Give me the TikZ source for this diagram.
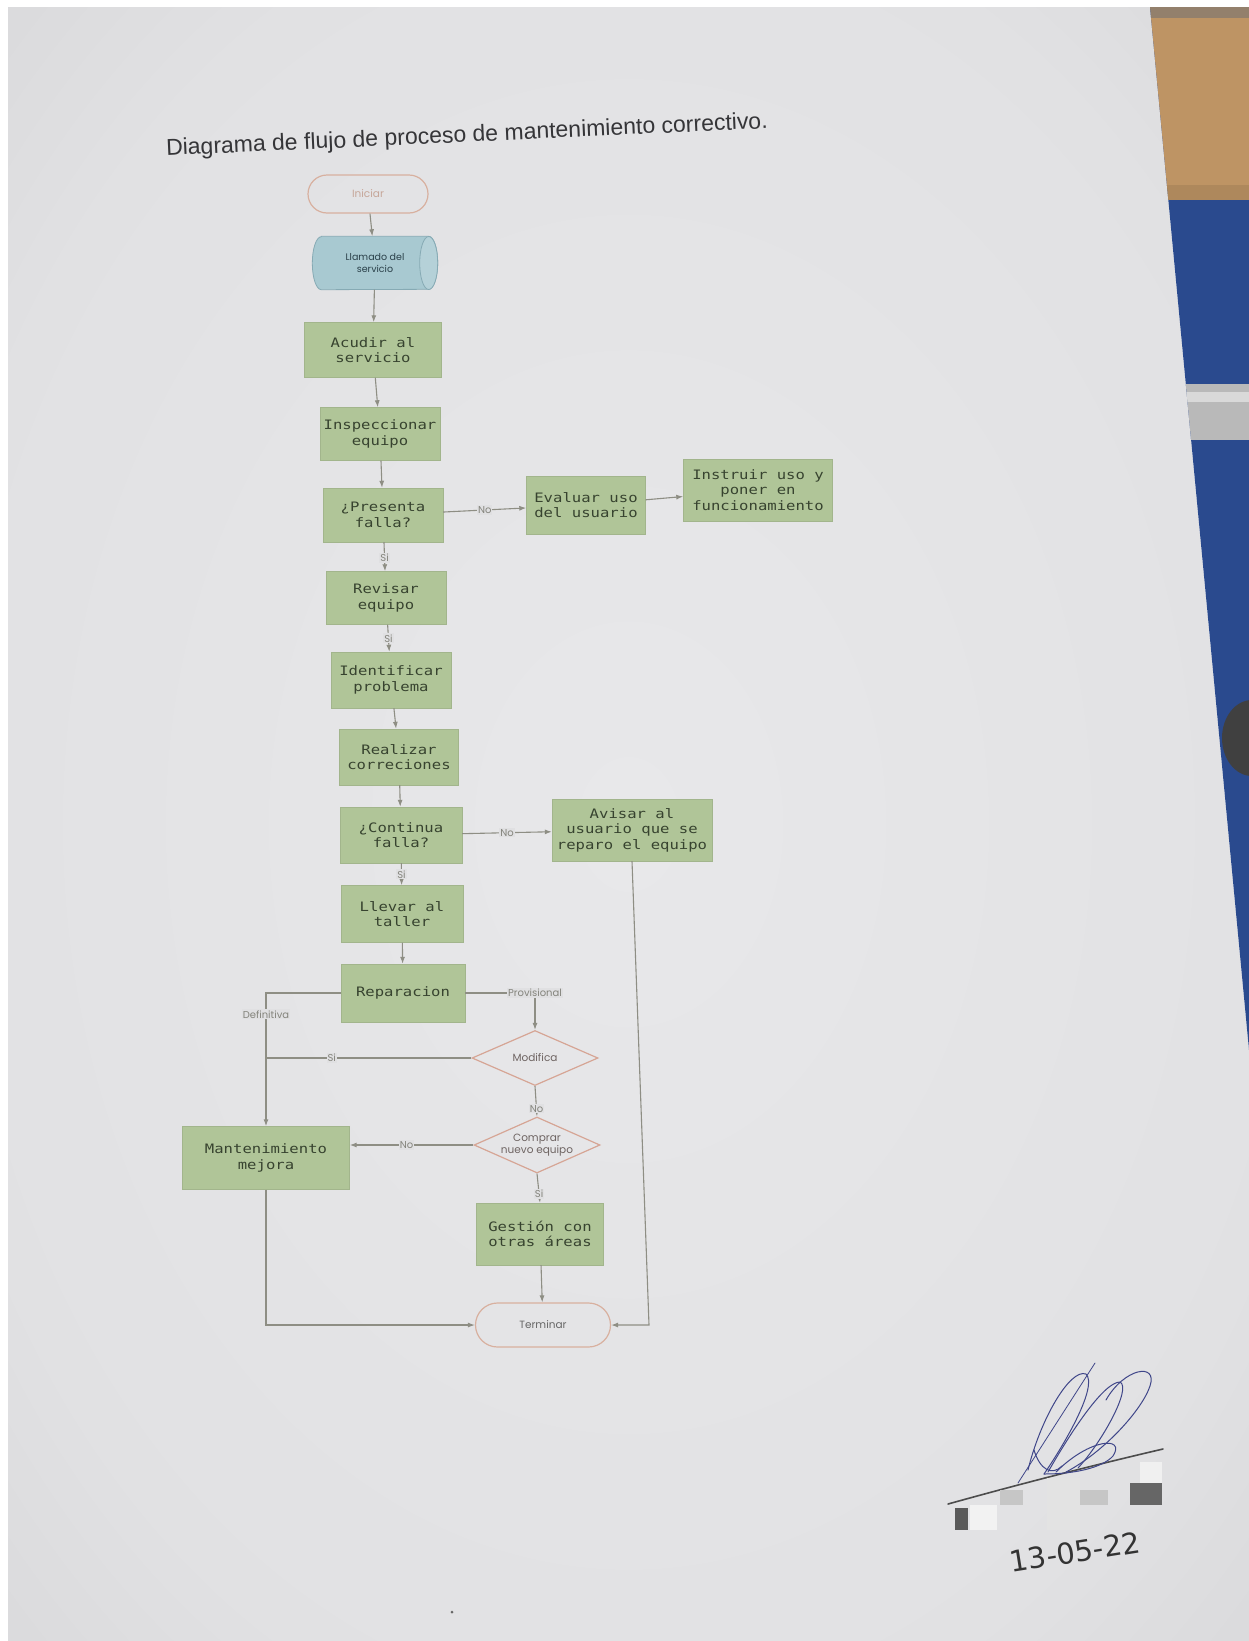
\documentclass[tikz,border=0pt]{standalone}
\usepackage{fontspec}
\setmainfont{Liberation Sans}
\newfontfamily\boxfont[FakeStretch=1.2]{DejaVu Sans Mono}
\newfontfamily\shapefont{Poppins}
\newfontfamily\handfont{DejaVu Sans}
\usetikzlibrary{shapes.geometric,arrows.meta,calc}
\pgfdeclarelayer{paper}
\pgfdeclarelayer{background}
\pgfsetlayers{paper,background,main}

\definecolor{paperhi}{HTML}{E8E8EA}
\definecolor{paperlo}{HTML}{CDCDCF}
\definecolor{labelbg}{HTML}{E0E0E2}
\definecolor{boxgreen}{HTML}{B0C598}
\definecolor{boxtext}{HTML}{37432F}
\definecolor{cylfill}{HTML}{A8C9D1}
\definecolor{cylline}{HTML}{86AAB4}
\definecolor{cyltext}{HTML}{2A4049}
\definecolor{decline}{HTML}{D6A595}
\definecolor{dectext}{HTML}{6E6462}
\definecolor{termline}{HTML}{D8B09F}
\definecolor{lineclr}{HTML}{8E8E84}
\definecolor{lblclr}{HTML}{84847C}
\definecolor{titleclr}{HTML}{353538}
\definecolor{wood}{HTML}{BE9464}
\definecolor{deskblue}{HTML}{2A4A8E}
\definecolor{ink}{HTML}{3F4689}

\pgfdeclareradialshading{paperglow}{\pgfpoint{0bp}{0bp}}{%
  color(0bp)=(paperhi); color(28bp)=(paperhi!75!paperlo);
  color(50bp)=(paperlo); color(72bp)=(paperlo)}

\tikzset{
  procbox/.style={rectangle, fill=boxgreen, draw=boxgreen!92!black, line width=0.4pt,
    text=boxtext, font=\boxfont\fontsize{13}{15.5}\selectfont, align=center, inner sep=0pt},
  termbox/.style={rectangle, draw=termline, line width=1.2pt, inner sep=0pt,
    font=\shapefont\fontsize{10.5}{12}\selectfont},
  decision/.style={diamond, draw=decline, line width=1.2pt, inner sep=0pt, aspect=2.3},
  dectxt/.style={font=\shapefont\fontsize{10.5}{12}\selectfont, text=dectext, align=center, inner sep=0pt},
  lbl/.style={font=\shapefont\fontsize{10}{11}\selectfont, text=lblclr, fill=labelbg, inner sep=1pt},
  flow/.style={draw=lineclr, line width=1.1pt, -{Latex[length=7pt,width=5pt]}},
  plainline/.style={draw=lineclr, line width=1.1pt},
  pen/.style={draw=ink, line width=1pt, line cap=round, line join=round},
}

\begin{document}
\begin{tikzpicture}[x=1pt,y=-1pt]
\useasboundingbox (0,0) rectangle (1249,1641);

% ---------- sheet of paper and desk ----------
\begin{pgfonlayer}{paper}
  \fill[white] (0,0) rectangle (1249,1641);
  \shade[shading=paperglow] (8,7) -- (1150,7) -- (1249,1050) -- (1249,1641) -- (8,1641) -- cycle;
  \begin{scope}
    \clip (1150,7) -- (1249,7) -- (1249,1050) -- cycle;
    \fill[deskblue] (1140,0) rectangle (1249,1060);
    \fill[wood] (1140,18) rectangle (1249,200);
    \fill[wood!80!black, opacity=0.4] (1140,185) rectangle (1249,200);
    \fill[gray!70!brown] (1140,7) rectangle (1249,18);
    % pen lying on the desk
    \fill[gray!55] (1180,384) rectangle (1249,440);
    \fill[gray!30] (1180,392) rectangle (1249,402);
    % dark object
    \fill[black!75] (1252,738) ellipse [x radius=30pt, y radius=38pt];
  \end{scope}
\end{pgfonlayer}

% ---------- title ----------
\node[font=\fontsize{23}{27}\selectfont, text=titleclr, rotate=2.6] (title) at (467,136)
  {Diagrama de flujo de proceso de mantenimiento correctivo.};

% ---------- flowchart nodes ----------
\node[termbox, rounded corners=19pt, minimum width=120, minimum height=38, text=termline!80!gray]
  (ini) at (368,194) {Iniciar};
\node[rectangle, inner sep=0pt, minimum width=125, minimum height=53, align=center,
  font=\shapefont\fontsize{9.5}{12}\selectfont, text=cyltext] (llam) at (375,263) {Llamado del\\servicio};
\node[procbox, minimum width=137, minimum height=55] (acu) at (373,350) {Acudir al\\servicio};
\node[procbox, minimum width=120, minimum height=53] (insp) at (380,434) {Inspeccionar\\equipo};
\node[procbox, minimum width=120, minimum height=54] (pres) at (383,515) {¿Presenta\\falla?};
\node[procbox, minimum width=119, minimum height=58] (eval) at (586,505) {Evaluar uso\\del usuario};
\node[procbox, minimum width=149, minimum height=62] (instr) at (758,490)
  {Instruir uso y\\poner en\\funcionamiento};
\node[procbox, minimum width=120, minimum height=53] (rev) at (386,598) {Revisar\\equipo};
\node[procbox, minimum width=120, minimum height=56] (ident) at (391,680) {Identificar\\problema};
\node[procbox, minimum width=119, minimum height=56] (real) at (399,757) {Realizar\\correciones};
\node[procbox, minimum width=122, minimum height=56] (cont) at (401,835) {¿Continua\\falla?};
\node[procbox, minimum width=160, minimum height=62] (avis) at (632,830)
  {Avisar al\\usuario que se\\reparo el equipo};
\node[procbox, minimum width=122, minimum height=57] (llev) at (402,914) {Llevar al\\taller};
\node[procbox, minimum width=124, minimum height=58] (repa) at (403,993) {Reparacion};
\node[decision, minimum width=126, minimum height=55,
  label={[dectxt]center:Modifica}] (modi) at (535,1058) {};
\node[decision, minimum width=126, minimum height=56,
  label={[dectxt]center:Comprar\\nuevo equipo}] (comp) at (537,1145) {};
\node[procbox, minimum width=167, minimum height=63] (mant) at (266,1158) {Mantenimiento\\mejora};
\node[procbox, minimum width=127, minimum height=62] (gest) at (540,1234) {Gestión con\\otras áreas};
\node[termbox, rounded corners=22pt, minimum width=135, minimum height=44, text=black!60]
  (term) at (543,1325) {Terminar};

% storage-drum outline behind the call node
\begin{pgfonlayer}{background}
  \path[fill=cylfill, draw=cylline, line width=0.8pt]
    ($(llam.north west)+(9,0)$) -- ($(llam.north east)+(-9,0)$)
    arc[start angle=90, end angle=-90, x radius=9pt, y radius=26.5pt]
    -- ($(llam.south west)+(9,0)$)
    arc[start angle=270, end angle=90, x radius=9pt, y radius=26.5pt] -- cycle;
  \draw[cylline, line width=0.8pt, fill=cylfill!85!white]
    ($(llam.east)+(-9,0)$) ellipse [x radius=9pt, y radius=26.5pt];
\end{pgfonlayer}

% ---------- connectors ----------
\draw[flow] (ini) -- (llam);
\draw[flow] (llam) -- (acu);
\draw[flow] (acu) -- (insp);
\draw[flow] (insp) -- (pres);
\draw[flow] (pres) -- node[lbl]{No} (eval);
\draw[flow] (eval) -- (instr);
\draw[flow] (pres) -- node[lbl, pos=0.55]{Si} (rev);
\draw[flow] (rev) -- node[lbl, pos=0.5]{Si} (ident);
\draw[flow] (ident) -- (real);
\draw[flow] (real) -- (cont);
\draw[flow] (cont) -- node[lbl]{No} (avis);
\draw[flow] (cont) -- node[lbl]{Si} (llev);
\draw[flow] (llev) -- (repa);
\draw[flow] (repa.west) -| node[lbl, pos=0.58]{Definitiva} (mant.north);
\draw[flow] (repa.east) -| node[lbl, pos=0.5]{Provisional} (modi.north);
\coordinate (join) at (modi.west -| mant.north);
\draw[plainline] (modi.west) -- node[lbl, pos=0.68]{Si} (join);
\draw[flow] (modi.south) -- node[lbl, pos=0.75]{No} (comp.north);
\draw[flow] (comp.west) -- node[lbl, pos=0.54]{No} (comp.west -| mant.east);
\draw[flow] (comp.south) -- node[lbl, pos=0.7]{Si} (gest.north);
\draw[flow] (gest) -- (term);
\draw[flow] (mant.south) |- (term.west);
\coordinate (avturn) at (649,1325);
\draw[flow] (avis.south) -- (avturn) -- (term.east);

% ---------- signature block ----------
\draw[black!70, line width=1.6pt, line cap=round] (948,1504) .. controls (1020,1484) and (1090,1466) .. (1163,1449);
\draw[pen, line width=0.8pt] (1018,1483) -- (1095,1363);
\draw[pen] (1028,1470) .. controls (1040,1420) and (1070,1368) .. (1086,1374)
  .. controls (1098,1386) and (1066,1442) .. (1044,1474);
\draw[pen] (1048,1472) .. controls (1072,1430) and (1104,1382) .. (1120,1382)
  .. controls (1132,1388) and (1102,1442) .. (1078,1468);
\draw[pen] (1106,1400) .. controls (1124,1368) and (1158,1362) .. (1150,1386)
  .. controls (1142,1410) and (1104,1452) .. (1066,1472);
\draw[pen] (1056,1472) .. controls (1090,1438) and (1126,1436) .. (1113,1456)
  .. controls (1102,1468) and (1074,1474) .. (1044,1474);
\draw[pen] (1034,1450) .. controls (1040,1470) and (1052,1476) .. (1062,1466);
% redacted name blocks
\fill[black!65] (955,1508) rectangle (968,1530);
\fill[white!90!gray] (970,1505) rectangle (997,1530);
\fill[gray!45] (1000,1490) rectangle (1023,1505);
\fill[gray!22] (1047,1478) rectangle (1080,1530);
\fill[gray!45] (1080,1490) rectangle (1108,1505);
\fill[white!88!gray] (1140,1462) rectangle (1162,1483);
\fill[black!60] (1130,1483) rectangle (1162,1505);
\node[font=\handfont\fontsize{29}{31}\selectfont, text=black!80, rotate=9] (date) at (1075,1552) {13-05-22};
\fill[black!60] (452,1612) circle (1.5pt);
\end{tikzpicture}
\end{document}
